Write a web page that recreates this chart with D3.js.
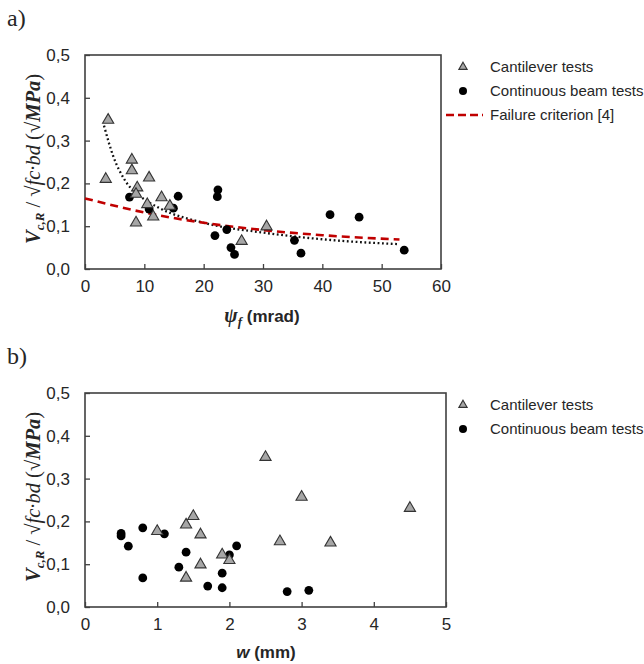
<!DOCTYPE html>
<html>
<head>
<meta charset="utf-8">
<script src="https://cdn.jsdelivr.net/npm/d3@7"></script>
<style>
  body { margin: 0; background: #fff; }
  svg { font-family: "Liberation Sans", Arial, sans-serif; }
</style>
</head>
<body>
<svg id="fig" width="644" height="664"></svg>
<script>
// ---- panel a: shear strength vs. rotation psi_f (mrad)
const cantPsi  = [3.9, 3.5, 7.9, 7.9, 8.8, 8.6, 8.6, 10.8, 10.5, 11.5, 12.9, 14.3, 30.6, 26.4];
const cantPsiV = [0.348, 0.21, 0.255, 0.23, 0.19, 0.175, 0.108, 0.213, 0.151, 0.122, 0.167, 0.147, 0.099, 0.065];
const contPsi  = [7.5, 10.8, 14.9, 15.7, 22.4, 22.3, 21.9, 23.9, 24.6, 25.2, 35.3, 36.4, 41.3, 46.2, 53.8];
const contPsiV = [0.168, 0.14, 0.142, 0.17, 0.185, 0.169, 0.078, 0.092, 0.05, 0.034, 0.067, 0.037, 0.127, 0.121, 0.044];
// dotted trend of the cantilever tests
const trendPsi = [3.2, 4.8, 6.7, 9.3, 12.6, 20, 30.6, 43, 53];
const trendV   = [0.335, 0.262, 0.208, 0.17, 0.142, 0.108, 0.084, 0.066, 0.058];
// failure criterion [4]
const critPsi = [0, 10, 20, 30, 40, 53];
const critV   = [0.165, 0.132, 0.108, 0.091, 0.079, 0.069];

// ---- panel b: shear strength vs. crack width w (mm)
const cantW  = [1.0, 1.4, 1.5, 1.6, 1.4, 1.6, 1.9, 2.0, 2.5, 3.0, 2.7, 3.4, 4.5];
const cantWV = [0.177, 0.192, 0.212, 0.169, 0.068, 0.099, 0.122, 0.109, 0.35, 0.257, 0.153, 0.15, 0.231];
const contW  = [0.5, 0.5, 0.6, 0.8, 0.8, 1.1, 1.4, 1.3, 1.7, 1.9, 1.9, 2.0, 2.1, 2.8, 3.1];
const contWV = [0.172, 0.166, 0.142, 0.185, 0.068, 0.171, 0.128, 0.093, 0.049, 0.079, 0.045, 0.122, 0.143, 0.036, 0.039];

const yTicks  = [0, 0.1, 0.2, 0.3, 0.4, 0.5];
const xTicksA = [0, 10, 20, 30, 40, 50, 60];
const xTicksB = [0, 1, 2, 3, 4, 5];
const legendNames = ["Cantilever tests", "Continuous beam tests", "Failure criterion [4]"];

const svg = d3.select("#fig");
const ink = "#262626";
const triFill = "#a6a6a6";
const red = "#c00000";
const comma = d => d3.format(".1f")(d).replace(".", ",");

const tri = d3.symbol().type(d3.symbolTriangle).size(54);
const triSmall = d3.symbol().type(d3.symbolTriangle).size(30);

function yTitle(g, cx, cy) {
  const t = g.append("text")
    .attr("transform", `translate(${cx},${cy}) rotate(-90)`)
    .attr("text-anchor", "middle")
    .attr("fill", ink)
    .style("font-family", '"Liberation Serif", "DejaVu Serif", serif')
    .style("font-size", "20.5px");
  t.append("tspan").text("V").style("font-weight", "bold").style("font-style", "italic");
  t.append("tspan").text("c,R").attr("dy", 4).style("font-size", "13px")
    .style("font-weight", "bold").style("font-style", "italic");
  t.append("tspan").text(" / √").attr("dy", -4);
  t.append("tspan").text("fc·bd").style("font-style", "italic");
  t.append("tspan").text(" (√");
  t.append("tspan").text("MPa").style("font-weight", "bold").style("font-style", "italic");
  t.append("tspan").text(")");
}

function panel(opt) {
  const g = svg.append("g").attr("transform", `translate(${opt.left},${opt.top})`);
  const x = d3.scaleLinear().domain(opt.xDomain).range([0, opt.w]);
  const y = d3.scaleLinear().domain([0, 0.5]).range([opt.h, 0]);

  const ax = g.append("g").attr("transform", `translate(0,${opt.h})`)
    .call(d3.axisBottom(x).tickValues(opt.xTicks).tickFormat(d3.format("d"))
      .tickSizeInner(-5).tickSizeOuter(0).tickPadding(11));
  const ay = g.append("g")
    .call(d3.axisLeft(y).tickValues(yTicks).tickFormat(comma)
      .tickSizeInner(-5).tickSizeOuter(0).tickPadding(15));
  [ax, ay].forEach(a => {
    a.select(".domain").remove();
    a.selectAll("line").attr("stroke", "#404040").attr("stroke-width", 1.3);
    a.selectAll("text").attr("fill", ink).style("font-size", "17px")
      .style("font-family", '"Liberation Sans", Arial, sans-serif');
  });

  g.append("rect").attr("width", opt.w).attr("height", opt.h)
    .attr("fill", "none").attr("stroke", "#404040").attr("stroke-width", 1.6);

  if (opt.lines) {
    const line = d3.line().x(d => x(d[0])).y(d => y(d[1])).curve(d3.curveMonotoneX);
    g.append("path").datum(d3.zip(trendPsi, trendV))
      .attr("d", line).attr("fill", "none").attr("stroke", "#111")
      .attr("stroke-width", 2.3).attr("stroke-dasharray", "1.8,2.6");
    g.append("path").datum(d3.zip(critPsi, critV))
      .attr("d", line).attr("fill", "none").attr("stroke", red)
      .attr("stroke-width", 2.6).attr("stroke-dasharray", "8,5");
  }

  g.selectAll("circle.cont").data(d3.zip(opt.contX, opt.contY)).enter()
    .append("circle").attr("class", "cont")
    .attr("cx", d => x(d[0])).attr("cy", d => y(d[1])).attr("r", 4.4)
    .attr("fill", "#000");

  g.selectAll("path.cant").data(d3.zip(opt.cantX, opt.cantY)).enter()
    .append("path").attr("class", "cant")
    .attr("transform", d => `translate(${x(d[0])},${y(d[1])})`)
    .attr("d", tri).attr("fill", triFill).attr("stroke", "#333").attr("stroke-width", 1.1);

  // legend
  const lg = svg.append("g").attr("transform", `translate(${opt.left + opt.w},${opt.top})`);
  const items = opt.lines ? legendNames : legendNames.slice(0, 2);
  items.forEach((name, i) => {
    const yy = 12 + i * 24;
    if (i === 0) {
      lg.append("path").attr("transform", `translate(${opt.legX},${yy})`)
        .attr("d", triSmall).attr("fill", triFill).attr("stroke", "#333").attr("stroke-width", 1.1);
    } else if (i === 1) {
      lg.append("circle").attr("cx", opt.legX).attr("cy", yy).attr("r", 4).attr("fill", "#000");
    } else {
      lg.append("line").attr("x1", opt.legX - 17).attr("x2", opt.legX + 20)
        .attr("y1", yy).attr("y2", yy)
        .attr("stroke", red).attr("stroke-width", 2.6).attr("stroke-dasharray", "8,4");
    }
    lg.append("text").attr("x", opt.legX + 27).attr("y", yy).attr("dy", "0.35em")
      .attr("fill", ink).style("font-size", "15px").text(name);
  });

  yTitle(svg, 40, opt.top + opt.h / 2 - 3);

  svg.append("text").attr("x", 7).attr("y", opt.top - 29)
    .attr("fill", ink)
    .style("font-family", '"Liberation Serif", "DejaVu Serif", serif')
    .style("font-size", "24px").text(opt.label);
  return g;
}

panel({ left: 85, top: 55, w: 356, h: 214, xDomain: [0, 60], xTicks: xTicksA,
  cantX: cantPsi, cantY: cantPsiV, contX: contPsi, contY: contPsiV,
  lines: true, legX: 22, label: "a)" });

panel({ left: 85, top: 393, w: 361, h: 214, xDomain: [0, 5], xTicks: xTicksB,
  cantX: cantW, cantY: cantWV, contX: contW, contY: contWV,
  lines: false, legX: 17, label: "b)" });

// x axis titles
const ta = svg.append("text").attr("x", 262).attr("y", 322).attr("text-anchor", "middle")
  .attr("fill", ink).style("font-weight", "bold").style("font-size", "17px");
ta.append("tspan").text("ψ").style("font-family", '"Liberation Serif", "DejaVu Serif", serif')
  .style("font-style", "italic").style("font-size", "20px");
ta.append("tspan").text("f").attr("dy", 4).style("font-family", '"Liberation Serif", serif')
  .style("font-style", "italic").style("font-size", "13px");
ta.append("tspan").text(" (mrad)").attr("dy", -4);

const tb = svg.append("text").attr("x", 266).attr("y", 658).attr("text-anchor", "middle")
  .attr("fill", ink).style("font-weight", "bold").style("font-size", "17px");
tb.append("tspan").text("w").style("font-style", "italic");
tb.append("tspan").text(" (mm)");
</script>
</body>
</html>
